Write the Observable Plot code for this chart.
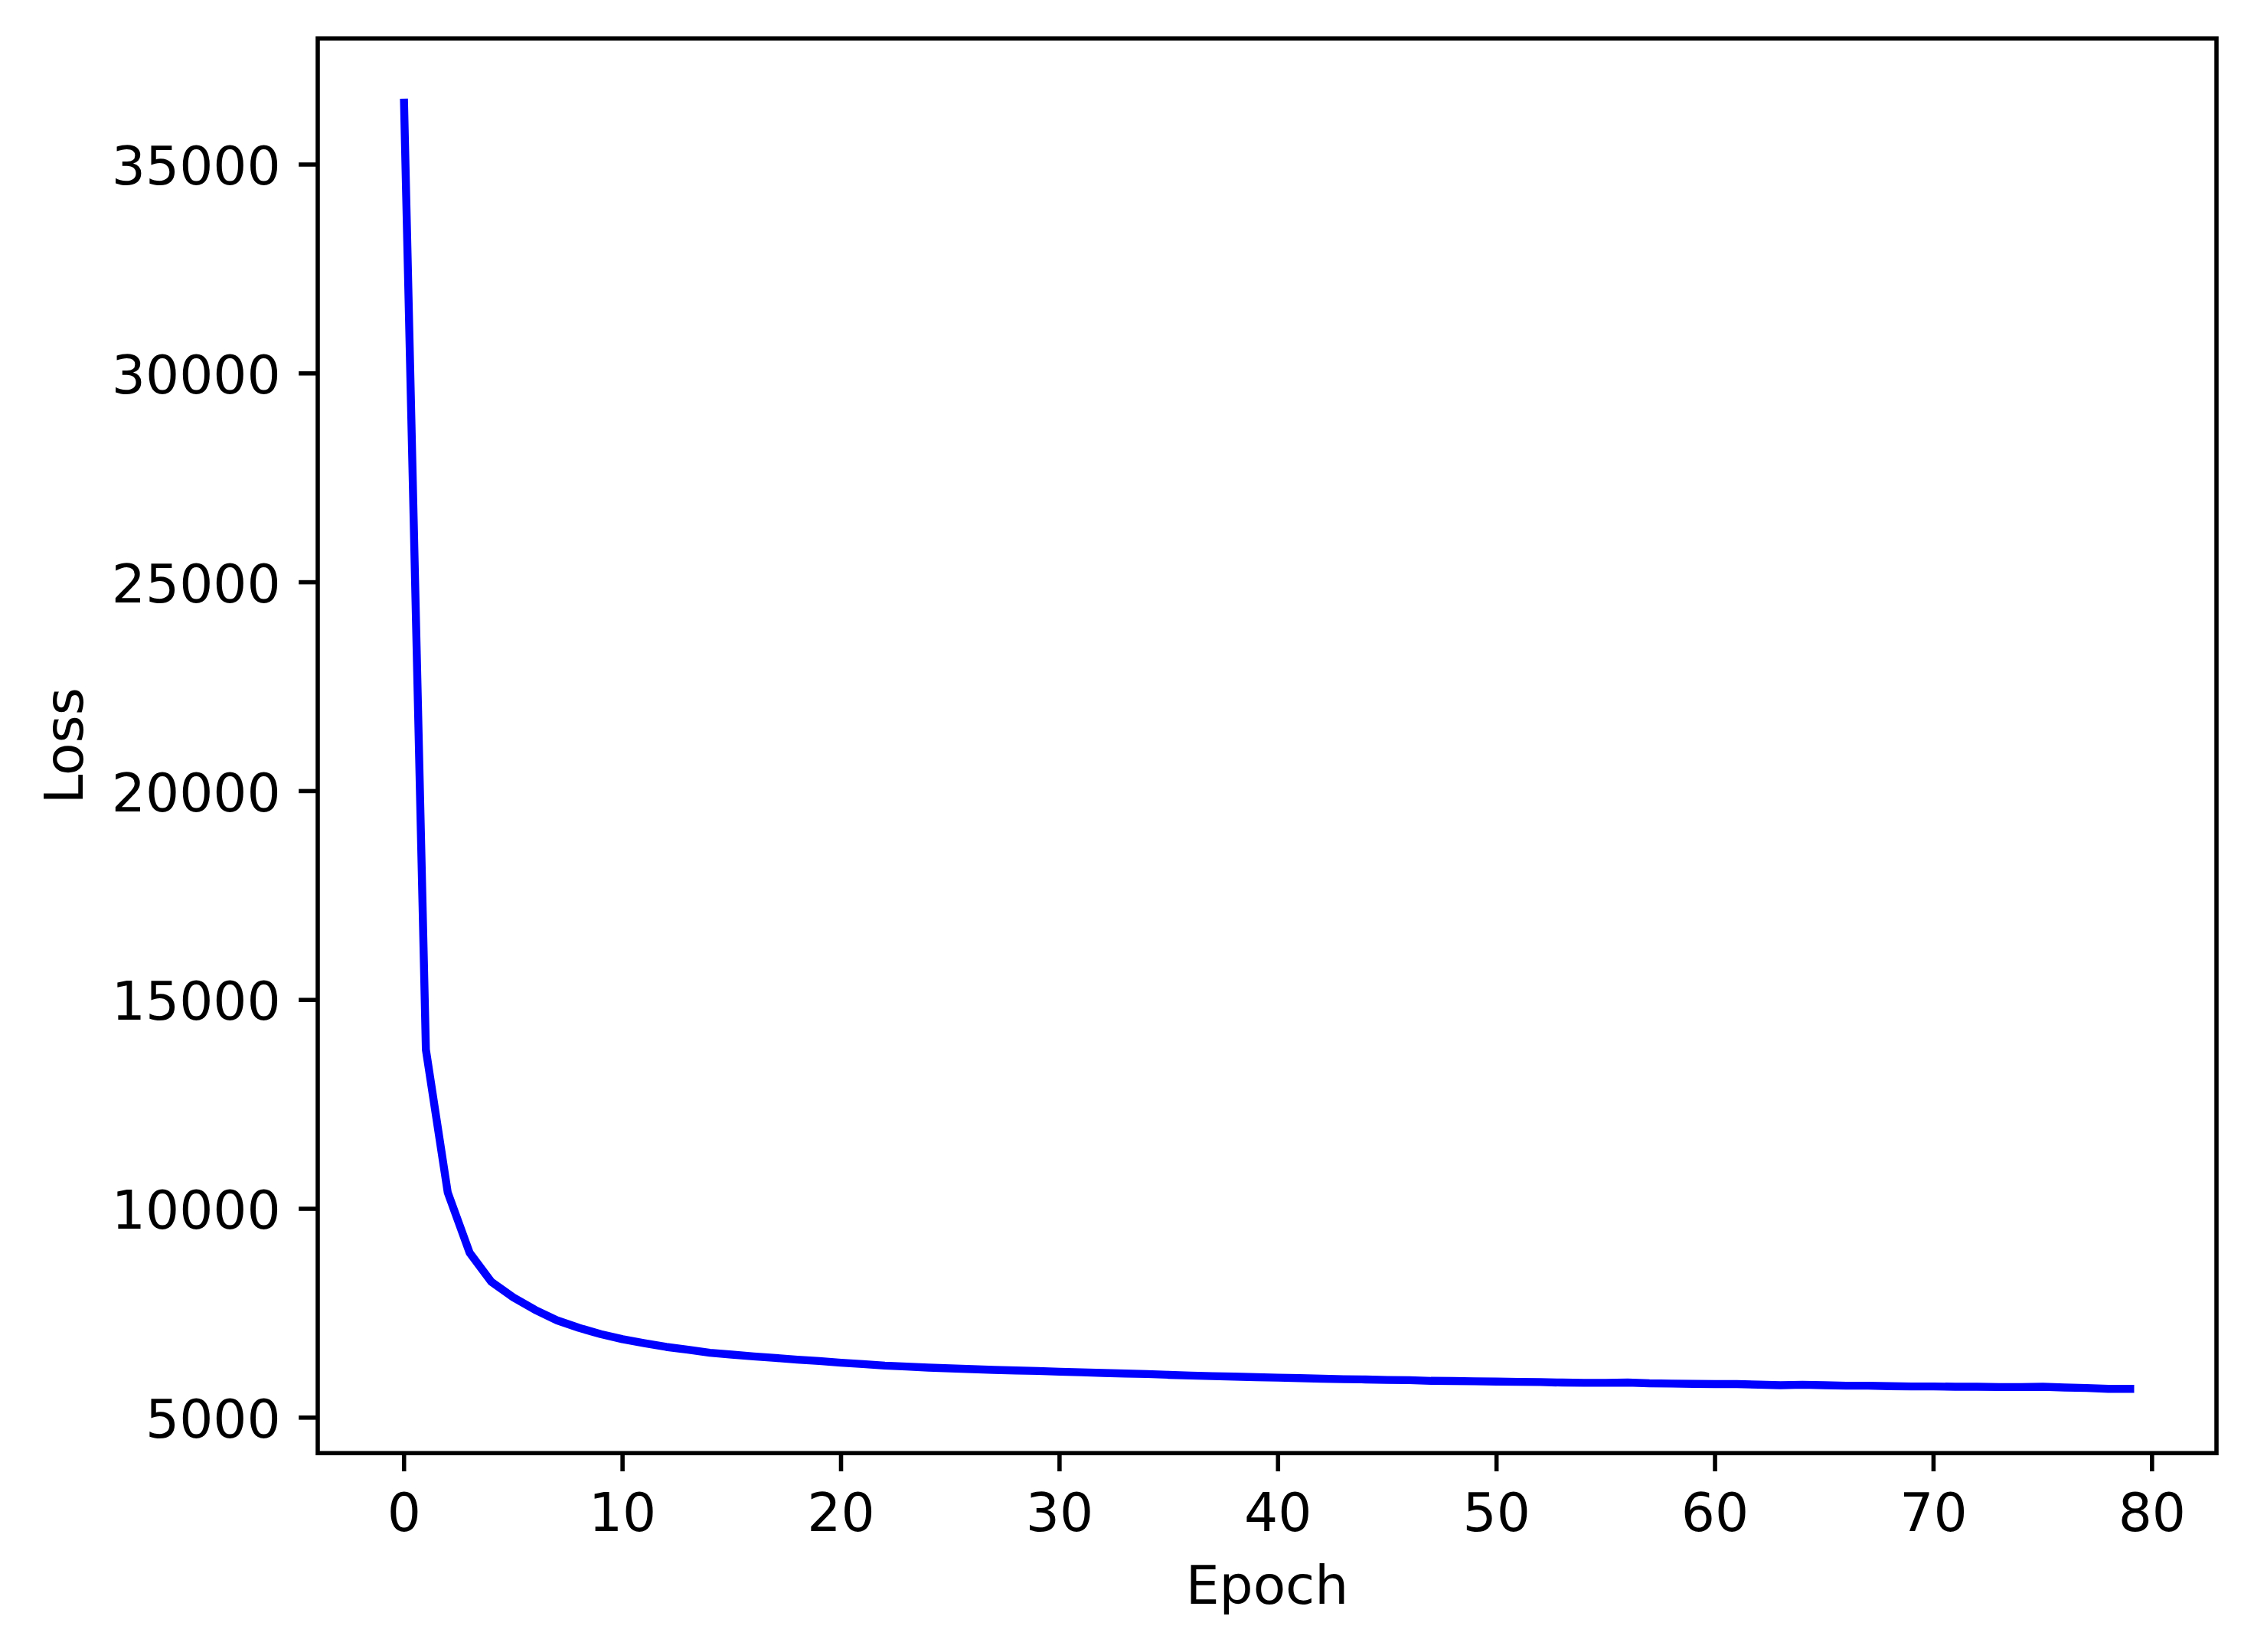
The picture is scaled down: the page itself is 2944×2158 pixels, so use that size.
<!DOCTYPE html>
<html>
<head>
<meta charset="utf-8">
<script src="https://cdn.jsdelivr.net/npm/d3@7"></script>
<script src="https://cdn.jsdelivr.net/npm/@observablehq/plot@0.6"></script>
<style>
  html, body { margin: 0; padding: 0; background: #ffffff; }
  #chart svg { display: block; }
</style>
</head>
<body>
<div id="chart"></div>
<script>
// ---- data ----
const epochs = [
  0, 1, 2, 3, 4, 5, 6, 7, 8, 9,
  10, 11, 12, 13, 14, 15, 16, 17, 18, 19,
  20, 21, 22, 23, 24, 25, 26, 27, 28, 29,
  30, 31, 32, 33, 34, 35, 36, 37, 38, 39,
  40, 41, 42, 43, 44, 45, 46, 47, 48, 49,
  50, 51, 52, 53, 54, 55, 56, 57, 58, 59,
  60, 61, 62, 63, 64, 65, 66, 67, 68, 69,
  70, 71, 72, 73, 74, 75, 76, 77, 78, 79
];
const loss = [
  36480, 13810, 10390, 8950, 8250, 7880, 7580, 7330, 7150, 7000,
  6877, 6784, 6693, 6625, 6552, 6509, 6466, 6429, 6387, 6356,
  6314, 6283, 6246, 6222, 6198, 6179, 6161, 6142, 6129, 6117,
  6099, 6086, 6068, 6056, 6044, 6025, 6007, 5994, 5982, 5970,
  5957, 5945, 5933, 5921, 5915, 5902, 5898, 5880, 5876, 5870,
  5863, 5857, 5851, 5839, 5833, 5833, 5839, 5821, 5815, 5809,
  5803, 5803, 5791, 5776, 5788, 5776, 5764, 5764, 5752, 5746,
  5746, 5740, 5740, 5733, 5733, 5740, 5721, 5709, 5690, 5690
];
const xTicks = [0, 10, 20, 30, 40, 50, 60, 70, 80];
const yTicks = [5000, 10000, 15000, 20000, 25000, 30000, 35000];
const xLabel = "Epoch";
const yLabel = "Loss";

// ---- table built from arrays ----
const rows = epochs.map((e, i) => ({epoch: e, loss: loss[i]}));

// matplotlib-style 5% autoscale margins
function padded(values) {
  const [lo, hi] = d3.extent(values);
  const m = (hi - lo) * 0.05;
  return [lo - m, hi + m];
}

const DPI = 500 / 72;           // points -> px at 500 dpi
const fontPx = 10 * DPI;        // 10 pt
const tick = 3.5 * DPI;         // tick length
const spine = 0.8 * DPI;        // spine / tick width
const lw = 1.5 * DPI;           // line width

const chart = Plot.plot({
  width: 2944,
  height: 2158,
  marginLeft: 414.5,
  marginRight: 49.5,
  marginTop: 49.7,
  marginBottom: 260.3,
  style: {
    fontFamily: "'DejaVu Sans', sans-serif",
    fontSize: fontPx + "px",
    color: "#000000",
    background: "#ffffff"
  },
  x: {domain: padded(epochs)},
  y: {domain: padded(loss)},
  marks: [
    Plot.line(rows, {
      x: "epoch",
      y: "loss",
      stroke: "#0000ff",
      strokeWidth: lw,
      strokeLinecap: "square",
      strokeLinejoin: "round",
      curve: "linear"
    }),
    Plot.frame({stroke: "#000000", strokeWidth: spine}),
    Plot.axisX({
      ticks: xTicks,
      tickSize: tick,
      tickPadding: 28,
      strokeWidth: spine,
      tickFormat: d => String(d),
      label: xLabel,
      labelAnchor: "center",
      labelArrow: "none",
      labelOffset: 197,
      fill: "#000000",
      stroke: "#000000"
    }),
    // y tick marks + axis title
    Plot.axisY({
      ticks: yTicks,
      tickSize: tick,
      strokeWidth: spine,
      tickFormat: () => "",
      label: yLabel,
      labelAnchor: "center",
      labelArrow: "none",
      labelOffset: 356.5,
      fill: "#000000",
      stroke: "#000000"
    }),
    // y tick labels (text only, nudged to matplotlib's vertical centring)
    Plot.axisY({
      ticks: yTicks,
      tickSize: 0,
      tickPadding: tick + 24,
      tickFormat: d => String(d),
      label: null,
      dy: 4,
      fill: "#000000"
    })
  ]
});
document.getElementById("chart").appendChild(chart);
</script>
</body>
</html>
